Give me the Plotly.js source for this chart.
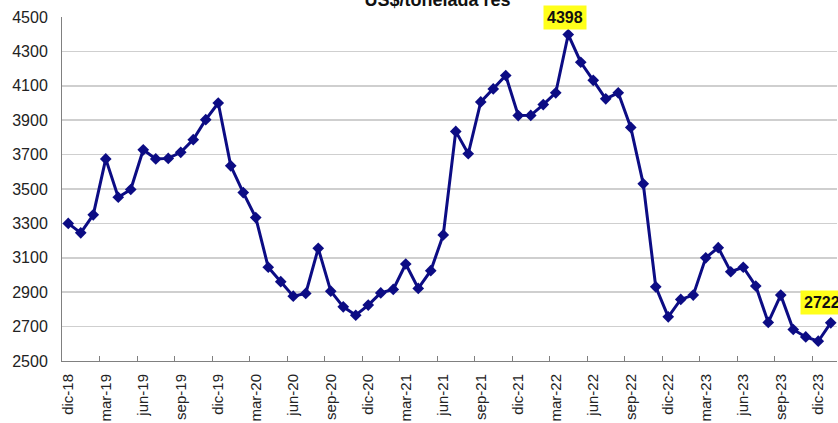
<!DOCTYPE html>
<html>
<head>
<meta charset="utf-8">
<script src="https://cdn.plot.ly/plotly-3.0.1.min.js"></script>
<style>html,body{margin:0;padding:0;background:#fff;}#chart{width:838px;height:423px;}</style>
</head>
<body>
<div id="chart"></div>
<script>
const categories = [
  "dic-18",
  "ene-19","feb-19","mar-19","abr-19","may-19","jun-19","jul-19","ago-19","sep-19","oct-19","nov-19","dic-19",
  "ene-20","feb-20","mar-20","abr-20","may-20","jun-20","jul-20","ago-20","sep-20","oct-20","nov-20","dic-20",
  "ene-21","feb-21","mar-21","abr-21","may-21","jun-21","jul-21","ago-21","sep-21","oct-21","nov-21","dic-21",
  "ene-22","feb-22","mar-22","abr-22","may-22","jun-22","jul-22","ago-22","sep-22","oct-22","nov-22","dic-22",
  "ene-23","feb-23","mar-23","abr-23","may-23","jun-23","jul-23","ago-23","sep-23","oct-23","nov-23","dic-23",
  "ene-24"
];
const prices = [
  3300,
  3245,3350,3675,3452,3497,3728,3675,3678,3713,3787,3903,4000,
  3635,3479,3334,3045,2961,2877,2893,3155,2906,2815,2766,2825,
  2896,2916,3064,2922,3025,3233,3835,3705,4006,4082,4160,3927,
  3928,3991,4059,4398,4237,4132,4024,4059,3858,3530,2931,2757,
  2858,2883,3100,3159,3019,3045,2936,2724,2883,2683,2640,2615,
  2722
];
const titleText = "US$/tonelada res";
const labelIdx = [40, 61];

const font = "Liberation Sans, Arial, sans-serif";
const trace = {
  type: "scatter",
  mode: "lines+markers",
  x: categories,
  y: prices,
  line: {color: "#0c0c84", width: 3},
  marker: {symbol: "diamond", size: 9, color: "#0c0c84"},
  hoverinfo: "x+y"
};

const annotations = [
  {x: categories[labelIdx[0]], y: prices[labelIdx[0]], text: String(prices[labelIdx[0]]),
   showarrow: false, xanchor: "center", yanchor: "bottom", yshift: 5, xshift: -3,
   bgcolor: "#ffff1a", borderpad: 3, font: {family: font, size: 16, color: "#111", weight: "bold"}},
  {x: categories[labelIdx[1]], y: prices[labelIdx[1]], text: String(prices[labelIdx[1]]),
   showarrow: false, xanchor: "center", yanchor: "bottom", yshift: 8, xshift: -9,
   bgcolor: "#ffff1a", borderpad: 3, font: {family: font, size: 16, color: "#111", weight: "bold"}}
];

const layout = {
  width: 838, height: 423,
  margin: {l: 62, r: 1, t: 17, b: 62, pad: 0},
  paper_bgcolor: "#ffffff", plot_bgcolor: "#ffffff",
  showlegend: false,
  font: {family: font, color: "#222"},
  title: {text: "<b>" + titleText + "</b>", font: {family: font, size: 18, color: "#111"},
          xref: "container", x: 0.522, xanchor: "center",
          yref: "container", y: 1, yanchor: "middle"},
  xaxis: {
    type: "category",
    range: [-0.5, categories.length - 0.5],
    tickmode: "linear", tick0: 0, dtick: 3,
    tickson: "boundaries",
    ticks: "inside", ticklen: 5, tickcolor: "#808080", tickwidth: 1,
    tickangle: -90,
    tickfont: {family: font, size: 15, color: "#222"},
    ticklabelstandoff: 6,
    showgrid: false, zeroline: false,
    showline: true, linecolor: "#808080", linewidth: 1
  },
  yaxis: {
    range: [2500, 4500],
    tickmode: "linear", tick0: 2500, dtick: 200,
    ticks: "", showgrid: true, gridcolor: "#cfcfcf", gridwidth: 1.5,
    tickfont: {family: font, size: 16, color: "#222"},
    ticklabelstandoff: 10,
    zeroline: false,
    showline: true, linecolor: "#808080", linewidth: 1
  },
  annotations: annotations
};

Plotly.newPlot("chart", [trace], layout, {displayModeBar: false, staticPlot: true});
</script>
</body>
</html>
